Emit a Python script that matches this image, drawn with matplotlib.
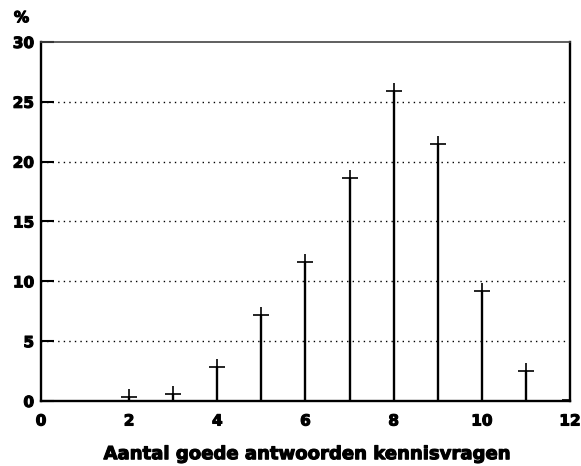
import matplotlib.pyplot as plt
import matplotlib.patheffects as pe

plt.rcParams['font.family'] = ['DejaVu Sans']

# aantal goede antwoorden vs percentage
aantal = [2, 3, 4, 5, 6, 7, 8, 9, 10, 11, 12]
procent = [0.3, 0.6, 2.8, 7.2, 11.6, 18.6, 25.9, 21.5, 9.2, 2.5, 0.1]
x_ticks = [0, 2, 4, 6, 8, 10, 12]
y_ticks = [0, 5, 10, 15, 20, 25, 30]

dik = [pe.withStroke(linewidth=0.8, foreground='black')]


def make_figure():
    fig = plt.figure(figsize=(5.81, 4.66), dpi=100)
    ax = fig.add_axes([0.0706, 0.1395, 0.9104, 0.7705])

    for yv in y_ticks[1:-1]:
        ax.axhline(yv, color='black', linestyle=(0, (1, 3)), linewidth=1.0, zorder=1)

    ax.vlines(aantal, 0, procent, color='black', linewidth=1.7, zorder=2)
    ax.plot(aantal, procent, linestyle='none', marker='+', color='black',
            markersize=12, markeredgewidth=1.2, zorder=3)

    ax.set_xlim(0, 12)
    ax.set_ylim(0, 30)
    ax.set_xticks(x_ticks)
    ax.set_yticks(y_ticks)
    ax.tick_params(axis='y', direction='in', length=9, width=1.5, labelsize=11, pad=5)
    ax.tick_params(axis='x', direction='in', length=0, labelsize=11, pad=9)
    for lab in ax.get_xticklabels() + ax.get_yticklabels():
        lab.set_fontweight('heavy')
        lab.set_path_effects(dik)

    for side in ['left', 'bottom', 'right']:
        ax.spines[side].set_linewidth(1.7)
    ax.spines['top'].set_linewidth(1.2)
    ax.spines['top'].set_color('#444444')

    xl = ax.set_xlabel('Aantal goede antwoorden kennisvragen', fontsize=13,
                       fontweight='heavy', labelpad=12)
    xl.set_path_effects(dik)
    fig.text(0.037, 0.962, '%', fontsize=11, fontweight='heavy',
             ha='center', va='center', path_effects=dik)
    return fig


def main():
    fig = make_figure()
    fig.savefig('out.png', dpi=100)


if __name__ == '__main__':
    main()
